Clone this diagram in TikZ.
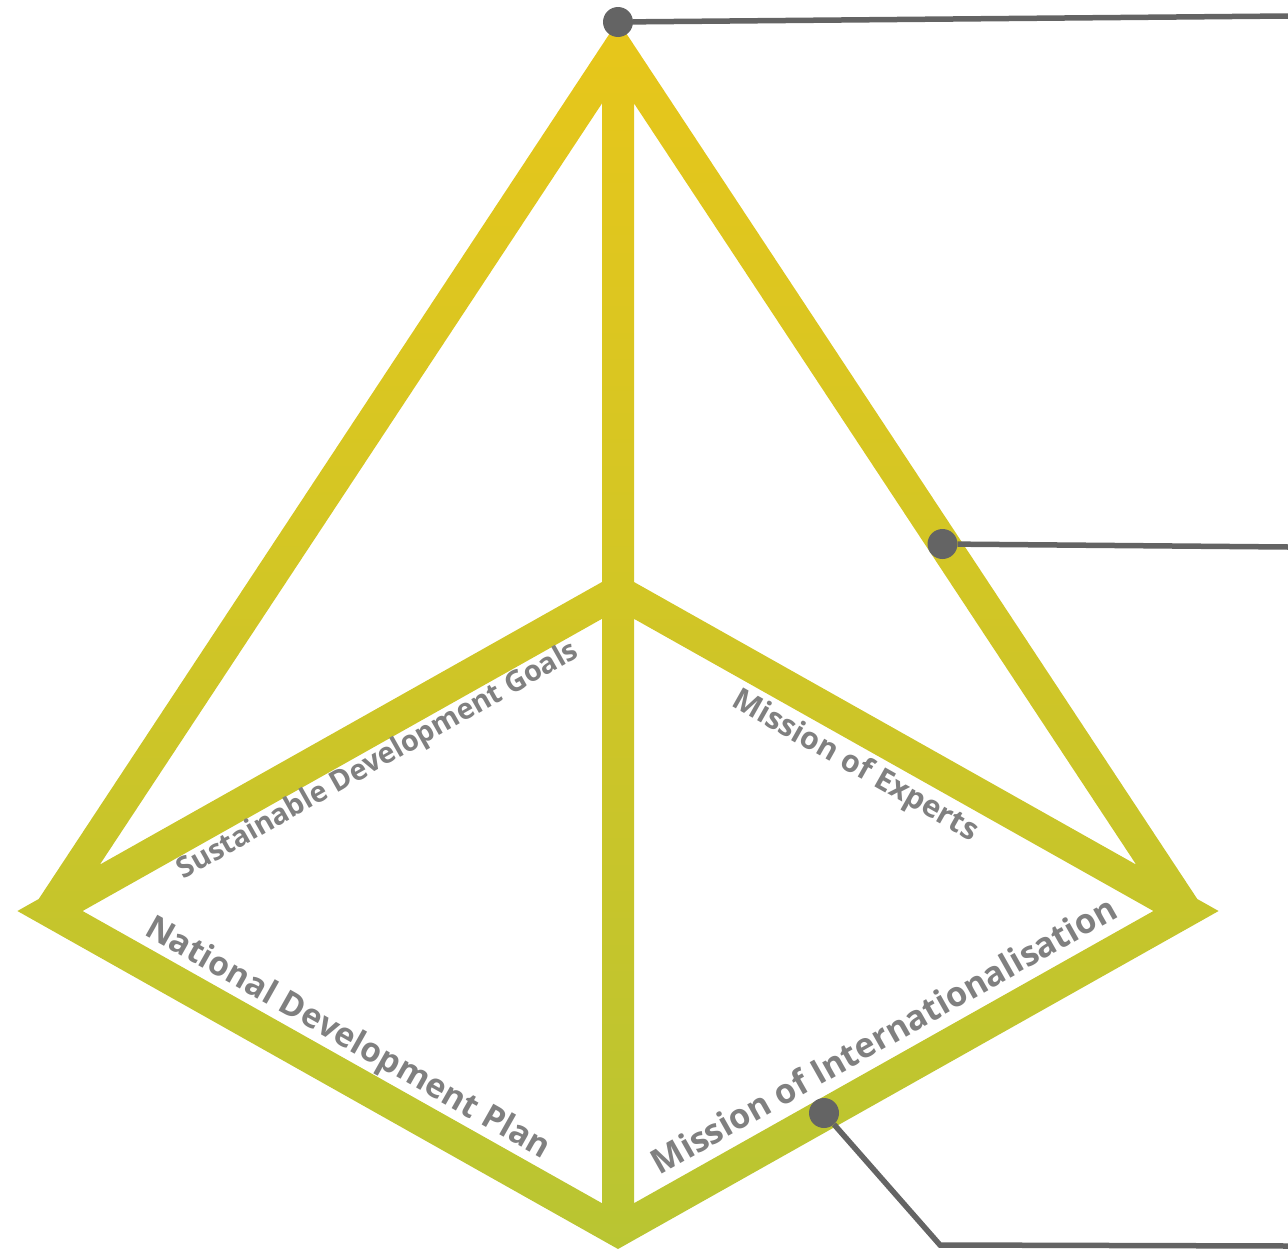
\documentclass[tikz,border=0pt]{standalone}
\usepackage{fontspec}
\setmainfont{Open Sans}
\usepackage{graphicx}
\definecolor{topc}{RGB}{232,198,26}
\definecolor{midc}{RGB}{210,200,36}
\definecolor{botc}{RGB}{185,197,50}
\definecolor{dotc}{RGB}{100,100,100}
\definecolor{labc}{RGB}{128,128,128}
\begin{document}
\begin{tikzpicture}[x=1pt,y=-1pt,
  dot/.style={circle,fill=dotc,inner sep=0pt,minimum size=30pt},
  lead/.style={draw=dotc,line width=5.5pt},
  lab/.style={text=labc,font=\bfseries,inner sep=0pt,anchor=base}]
\useasboundingbox (0,0) rectangle (1288,1250);
% pyramid frame (filled outline, vertical gradient)
\begin{scope}
\clip (618,573) -- (1218.6,911) -- (618,1249) -- (17.4,911) -- cycle
      (618,609.8) -- (82.6,911) -- (618,1212.2) -- (1153.4,911) -- cycle
      (602,50) -- (634,50) -- (634,1230) -- (602,1230) -- cycle
      (618,20.9) -- (1199.4,902.2) -- (1172.6,919.8) -- (618,79.1) -- (63.4,919.8) -- (36.6,902.2) -- cycle;
\shade[top color=topc, middle color=midc, bottom color=botc] (0,0) rectangle (1288,1250);
\end{scope}
% labels
\node[lab, rotate=29.4] (t1) at (382,768) {\resizebox{455pt}{!}{Sustainable Development Goals}};
\node[lab, rotate=-29.4] (t2) at (851,773.5) {\resizebox{277pt}{!}{Mission of Experts}};
\node[lab, rotate=-29.4] (t3) at (343,1047) {\resizebox{459pt}{!}{National Development Plan}};
\node[lab, rotate=29.4] (t4) at (890,1046) {\resizebox{528pt}{!}{Mission of Internationalisation}};
% callout dots and leaders
\node[dot] (d1) at (618,22) {};
\node[dot] (d2) at (942.5,544) {};
\node[dot] (d3) at (824,1113) {};
\coordinate (e1) at (1288,16);
\coordinate (e2) at (1288,547);
\coordinate (k3) at (940,1245);
\coordinate (e3) at (1288,1246);
\draw[lead] (d1) -- (e1);
\draw[lead] (d2) -- (e2);
\draw[lead] (d3) -- (k3) -- (e3);
\end{tikzpicture}
\end{document}
